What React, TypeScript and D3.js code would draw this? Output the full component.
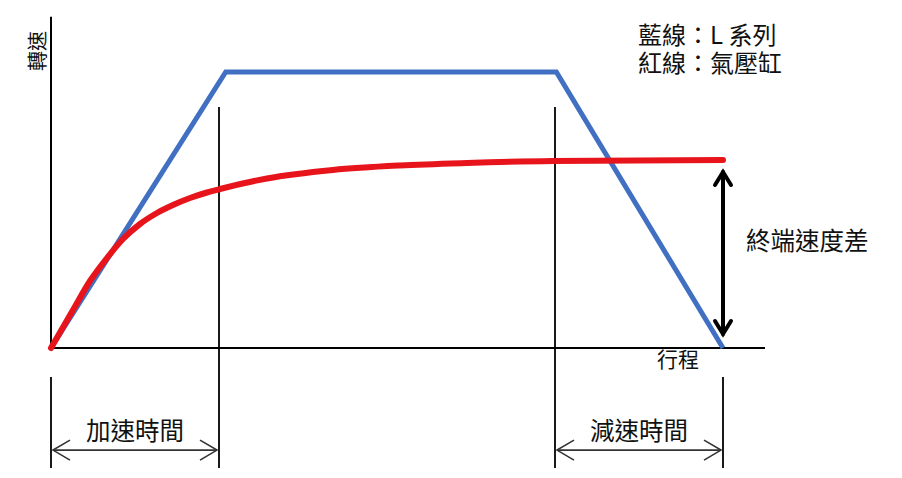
import React from "react";
import * as d3 from "d3";

// ---- data (abstract units: stroke 0..100, speed 0..100 = L-series top speed) ----
const blueStroke = [0, 26, 75.2, 100];
const blueSpeed = [0, 100, 100, 0];
const redStroke = [0, 3.27, 5.8, 8.33, 10.71, 13.24, 15.77, 18.15, 20.68, 23.21, 25.15, 32.14, 41.96, 51.93, 61.9, 74.7, 100];
const redSpeed = [0, 13.77, 24.28, 32.61, 39.49, 44.93, 48.91, 51.81, 54.35, 56.34, 57.61, 61.41, 64.49, 66.12, 67.03, 67.75, 68.12];
const accelEnd = 25;
const decelStart = 75;
const strokeEnd = 100;
const axisXMax = 106.25;
const axisYMax = 120;
const guideTop = 87.3;
const dimLevel = -37;
const extTop = -10.5;
const extBottom = -43.5;
const legendLines = ["藍線：L 系列", "紅線：氣壓缸"];
const yLabel = "轉速";
const xLabel = "行程";
const diffLabel = "終端速度差";
const accelLabel = "加速時間";
const decelLabel = "減速時間";

const W = 902;
const H = 478;
const FONT = "'Noto Sans CJK TC', 'Noto Sans', sans-serif";

export default function App() {
  const x = d3.scaleLinear().domain([0, 100]).range([51, 723]);
  const y = d3.scaleLinear().domain([0, 100]).range([348, 72]);

  const blueLine = d3
    .line<number>()
    .x((_, i) => x(blueStroke[i]))
    .y((d) => y(d))(blueSpeed) as string;

  const redLine = d3
    .line<number>()
    .curve(d3.curveMonotoneX)
    .x((_, i) => x(redStroke[i]))
    .y((d) => y(d))(redSpeed) as string;

  const textColor = "#111";
  const dimColor = "#333";

  const chevron = (tipX: number, tipY: number, dir: 1 | -1) =>
    `M${tipX + dir * 17},${tipY - 10}L${tipX},${tipY}L${tipX + dir * 17},${tipY + 10}`;

  const dimArrow = (x0: number, x1: number) => {
    const yy = y(dimLevel);
    const a = x(x0) + 2;
    const b = x(x1) - 2;
    return (
      <g stroke={dimColor} strokeWidth={1.6} fill="none">
        <line x1={a} x2={b} y1={yy} y2={yy} />
        <path d={chevron(a, yy, 1)} />
        <path d={chevron(b, yy, -1)} />
      </g>
    );
  };

  const arrX = x(strokeEnd);
  const arrTop = y(redSpeed[redSpeed.length - 1]) + 12;
  const arrBot = y(0) - 14;

  return (
    <svg
      width={W}
      height={H}
      style={{ position: "absolute", left: 0, top: 0, background: "#fff" }}
      fontFamily={FONT}
    >
      <rect width={W} height={H} fill="#fff" />
      {/* axes */}
      <g stroke="#000" strokeWidth={2}>
        <line x1={x(0)} x2={x(0)} y1={y(axisYMax)} y2={y(0)} />
        <line x1={x(0)} x2={x(axisXMax)} y1={y(0)} y2={y(0)} />
      </g>
      {/* guide lines */}
      <g stroke="#000" strokeWidth={1.8}>
        <line x1={x(accelEnd)} x2={x(accelEnd)} y1={y(guideTop)} y2={y(extBottom)} />
        <line x1={x(decelStart)} x2={x(decelStart)} y1={y(guideTop)} y2={y(extBottom)} />
        <line x1={x(0)} x2={x(0)} y1={y(extTop)} y2={y(extBottom)} />
        <line x1={x(strokeEnd)} x2={x(strokeEnd)} y1={y(extTop)} y2={y(extBottom)} />
      </g>
      {/* series */}
      <path d={blueLine} fill="none" stroke="#4170c2" strokeWidth={5} strokeLinejoin="miter" />
      <path d={redLine} fill="none" stroke="#e8141c" strokeWidth={6} strokeLinecap="round" />

      {/* terminal speed difference arrow */}
      <g stroke="#000" strokeWidth={4} fill="none" strokeLinecap="round">
        <line x1={arrX} x2={arrX} y1={arrTop} y2={arrBot} />
        <path d={`M${arrX - 8},${arrTop + 13}L${arrX},${arrTop}L${arrX + 8},${arrTop + 13}`} />
        <path d={`M${arrX - 8},${arrBot - 13}L${arrX},${arrBot}L${arrX + 8},${arrBot - 13}`} />
      </g>

      {/* dimension arrows */}
      {dimArrow(0, accelEnd)}
      {dimArrow(decelStart, strokeEnd)}

      {/* texts */}
      <g fill={textColor}>
        <text
          transform={`translate(44.5,51) rotate(-90)`}
          textAnchor="middle"
          fontSize={20}
        >
          {yLabel}
        </text>
        <text x={657} y={366.5} fontSize={21}>
          {xLabel}
        </text>
        <text x={746} y={250} fontSize={24.5}>
          {diffLabel}
        </text>
        <text x={(x(0) + x(accelEnd)) / 2} y={440} fontSize={24.5} textAnchor="middle">
          {accelLabel}
        </text>
        <text x={(x(decelStart) + x(strokeEnd)) / 2} y={440} fontSize={24.5} textAnchor="middle">
          {decelLabel}
        </text>
        {legendLines.map((t, i) => (
          <text key={i} x={638} y={43.5 + i * 28} fontSize={24}>
            {t}
          </text>
        ))}
      </g>
    </svg>
  );
}
